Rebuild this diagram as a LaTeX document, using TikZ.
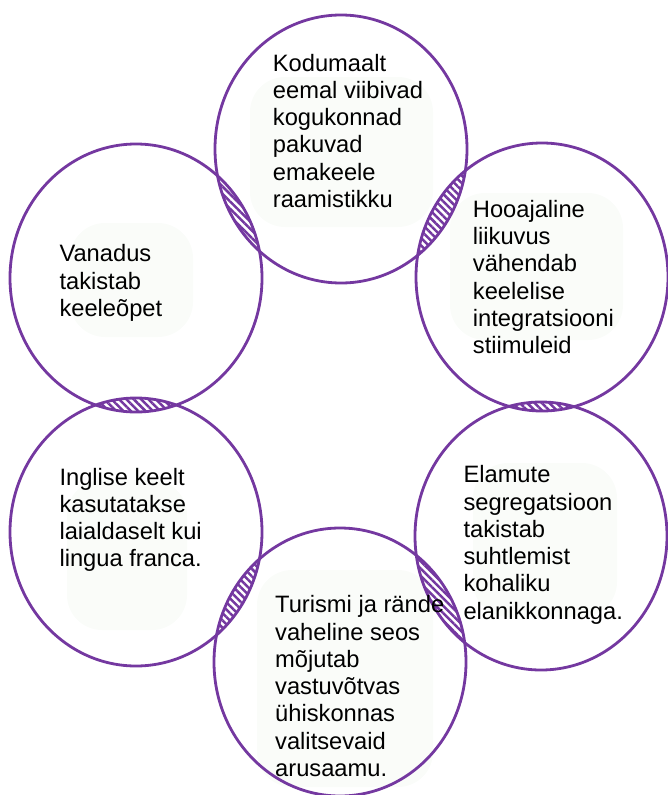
\documentclass[tikz,border=0pt]{standalone}
\usepackage{fontspec}
\setmainfont{Liberation Sans}
\usetikzlibrary{patterns.meta,shapes.geometric}
\definecolor{ringc}{RGB}{116,56,160}
\definecolor{blobc}{RGB}{250,252,249}
\tikzset{
  ringshape/.style={ellipse, draw=ringc, line width=2.8pt, minimum width=252pt, minimum height=268pt, inner sep=0pt},
  hatch/.style={pattern={Lines[angle=-45,distance=5.2pt,line width=2.5pt]}, pattern color=ringc},
  lbl/.style={anchor=base west, inner sep=0pt, font=\fontsize{23.7}{27.3}\selectfont},
  blobstyle/.style={fill=blobc, rounded corners=35pt}
}
\newcommand{\txtlines}[1]{\parbox[t]{300pt}{\raggedright #1}}
\newcommand{\lensfill}[2]{%
  \begin{scope}
    \clip (#1) ellipse [x radius=126pt, y radius=134pt];
    \fill[hatch] (#2) ellipse [x radius=126pt, y radius=134pt];
  \end{scope}}
\begin{document}
\begin{tikzpicture}[x=1pt,y=-1pt]
\useasboundingbox (0,0) rectangle (668,795);
% centres
\coordinate (cT)  at (341,149);
\coordinate (cRT) at (542,277);
\coordinate (cRB) at (541,536);
\coordinate (cB)  at (340,662);
\coordinate (cLB) at (136,532);
\coordinate (cLT) at (136,278);
% faint background blobs
\fill[blobstyle] (250,77) rectangle (433,227);
\fill[blobstyle] (450,193) rectangle (623,340);
\fill[blobstyle] (473,463) rectangle (617,617);
\fill[blobstyle] (257,570) rectangle (433,787);
\fill[blobstyle] (67,480) rectangle (187,630);
\fill[blobstyle] (70,223) rectangle (193,337);
% hatched overlaps
\lensfill{cT}{cRT}
\lensfill{cRT}{cRB}
\lensfill{cRB}{cB}
\lensfill{cB}{cLB}
\lensfill{cLB}{cLT}
\lensfill{cLT}{cT}
% circles
\node[ringshape] (T)  at (cT)  {};
\node[ringshape] (RT) at (cRT) {};
\node[ringshape] (RB) at (cRB) {};
\node[ringshape] (B)  at (cB)  {};
\node[ringshape] (LB) at (cLB) {};
\node[ringshape] (LT) at (cLT) {};
% texts
\node[lbl] (tT) at (272.7,71) {\txtlines{Kodumaalt\\eemal viibivad\\kogukonnad\\pakuvad\\emakeele\\raamistikku}};
\node[lbl] (tRT) at (472.7,217.3) {\txtlines{Hooajaline\\liikuvus\\vähendab\\keelelise\\integratsiooni\\stiimuleid}};
\node[lbl] (tRB) at (463.3,482.7) {\txtlines{Elamute\\segregatsioon\\takistab\\suhtlemist\\kohaliku\\elanikkonnaga.}};
\node[lbl] (tB) at (275,612.7) {\txtlines{Turismi ja rände\\vaheline seos\\mõjutab\\vastuvõtvas\\ühiskonnas\\valitsevaid\\arusaamu.}};
\node[lbl] (tLB) at (59.3,485) {\txtlines{Inglise keelt\\kasutatakse\\laialdaselt kui\\lingua franca.}};
\node[lbl] (tLT) at (59.3,261.7) {\txtlines{Vanadus\\takistab\\keeleõpet}};
\end{tikzpicture}
\end{document}
